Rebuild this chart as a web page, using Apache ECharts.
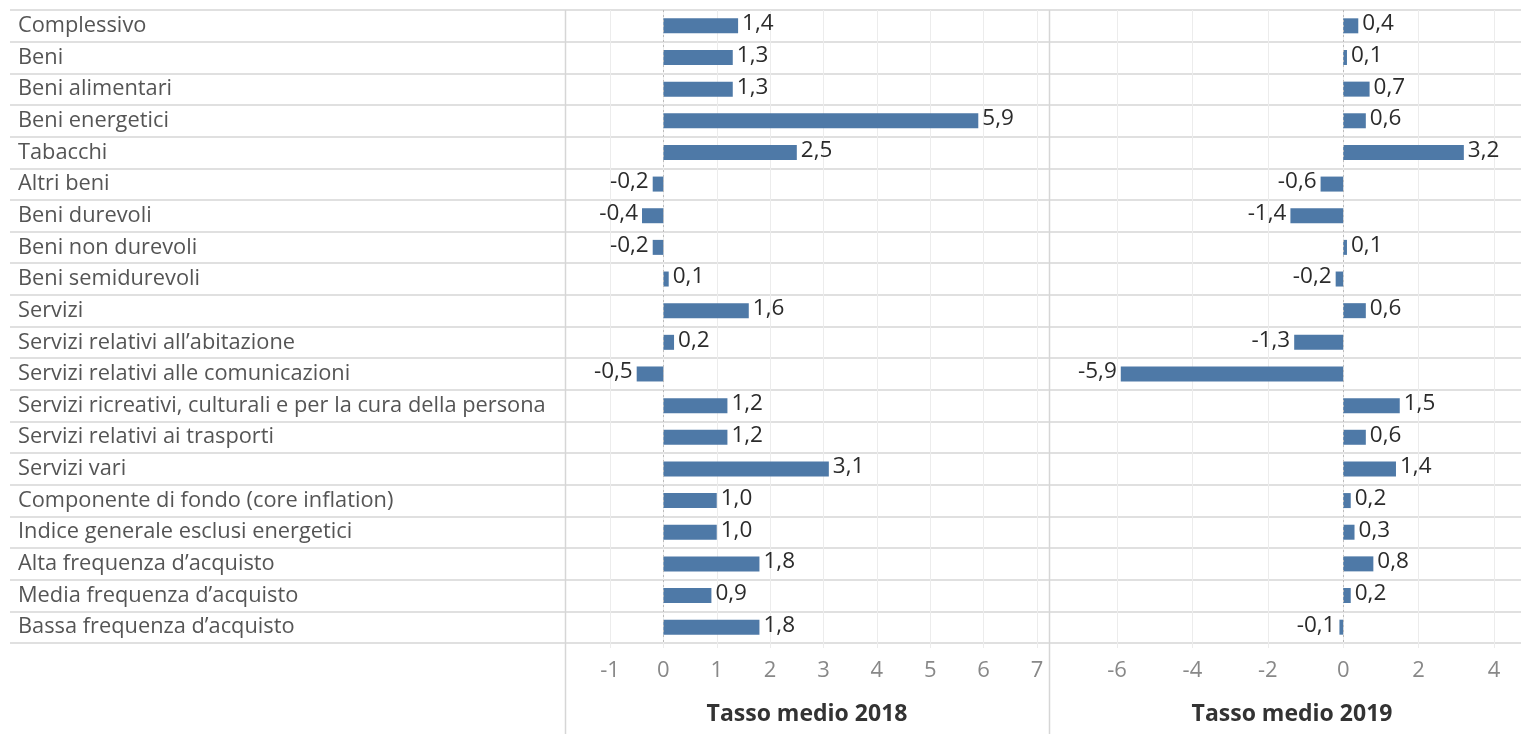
<!DOCTYPE html>
<html>
<head>
<meta charset="utf-8">
<script src="https://cdn.jsdelivr.net/npm/echarts@6/dist/echarts.min.js"></script>
<style>
html,body{margin:0;padding:0;background:#fff;}
#chart{width:1521px;height:734px;}
</style>
</head>
<body>
<div id="chart"></div>
<script>
const categories = [
  'Complessivo','Beni','Beni alimentari','Beni energetici','Tabacchi','Altri beni',
  'Beni durevoli','Beni non durevoli','Beni semidurevoli','Servizi',
  'Servizi relativi all’abitazione','Servizi relativi alle comunicazioni',
  'Servizi ricreativi, culturali e per la cura della persona','Servizi relativi ai trasporti',
  'Servizi vari','Componente di fondo (core inflation)','Indice generale esclusi energetici',
  'Alta frequenza d’acquisto','Media frequenza d’acquisto','Bassa frequenza d’acquisto'
];
const values2018 = [1.4,1.3,1.3,5.9,2.5,-0.2,-0.4,-0.2,0.1,1.6,0.2,-0.5,1.2,1.2,3.1,1.0,1.0,1.8,0.9,1.8];
const values2019 = [0.4,0.1,0.7,0.6,3.2,-0.6,-1.4,0.1,-0.2,0.6,-1.3,-5.9,1.5,0.6,1.4,0.2,0.3,0.8,0.2,-0.1];
const titles = ['Tasso medio 2018','Tasso medio 2019'];

const FONT = '"Open Sans", "Noto Sans", sans-serif';
const BAR = '#4e79a7';
const ROWLINE = '#d6d6d6';
const GRIDV = '#ececec';

const chart = echarts.init(document.getElementById('chart'), null, {renderer:'canvas'});

function fmt(v){ return v.toFixed(1).replace('.', ','); }
function barData(arr){
  return arr.map(v => ({
    value: v,
    label: {position: v < 0 ? 'left' : 'right'}
  }));
}

const TOP = 10, H = 633;

function catAxis(i, opts){
  return Object.assign({
    gridIndex: i, type: 'category', data: categories, inverse: true,
    axisLine:{show:false}, axisTick:{show:false}, axisLabel:{show:false},
    splitLine:{show:true, interval:0, lineStyle:{color:ROWLINE, width:1.5}}
  }, opts || {});
}
function hiddenVal(i, opts){
  return Object.assign({
    gridIndex: i, type: 'value', min:0, max:1,
    axisLine:{show:false}, axisTick:{show:false}, axisLabel:{show:false}, splitLine:{show:false}
  }, opts || {});
}
function dataVal(i, min, max, interval){
  return {
    gridIndex: i, type:'value', min:min, max:max, interval:interval,
    axisLine:{show:false},
    axisTick:{show:true, length:5, lineStyle:{color:GRIDV}},
    axisLabel:{show:true, color:'#888', fontSize:22, fontFamily:FONT, margin:17},
    splitLine:{show:true, lineStyle:{color:GRIDV, width:1}}
  };
}
const nameStyle = {fontSize:23, fontWeight:'bold', color:'#333', fontFamily:FONT};

function barSeries(i, arr){
  return {
    type:'bar', xAxisIndex:i, yAxisIndex:i, data: barData(arr), barWidth:15,
    itemStyle:{color:BAR},
    label:{show:true, formatter: p => fmt(p.value), fontSize:22.5, color:'#2b2b2b', fontFamily:FONT, distance:4, offset:[0,-2]},
    markLine:{silent:true, symbol:'none', label:{show:false},
      lineStyle:{color:'#bbb', type:[2,3], width:1},
      data:[{xAxis:0}]},
    animation:false
  };
}

const option = {
  animation:false,
  backgroundColor:'#fff',
  grid:[
    {left:10, top:TOP, width:555, height:H},
    {left:565, top:TOP, width:484, height:H},
    {left:1049, top:TOP, width:486, height:H},
    {left:610, top:TOP, width:427, height:H},
    {left:1117, top:TOP, width:377, height:H}
  ],
  xAxis:[
    hiddenVal(0),
    hiddenVal(1, {name:titles[0], nameLocation:'middle', nameGap:60, nameTextStyle:nameStyle}),
    hiddenVal(2, {name:titles[1], nameLocation:'middle', nameGap:60, nameTextStyle:Object.assign({padding:[0,0,0,14]}, nameStyle)}),
    dataVal(3, -1, 7, 1),
    dataVal(4, -6, 4, 2)
  ],
  yAxis:[
    catAxis(0, {axisLabel:{show:true, inside:true, interval:0, margin:8, align:'left', color:'#555', fontSize:21.8, fontFamily:FONT}}),
    catAxis(1),
    catAxis(2),
    catAxis(3, {show:false}),
    catAxis(4, {show:false})
  ],
  series:[
    barSeries(3, values2018),
    barSeries(4, values2019)
  ],
  graphic:[
    {type:'line', shape:{x1:565.5, y1:TOP, x2:565.5, y2:734}, style:{stroke:ROWLINE, lineWidth:1.5}, silent:true},
    {type:'line', shape:{x1:1049.5, y1:TOP, x2:1049.5, y2:734}, style:{stroke:ROWLINE, lineWidth:1.5}, silent:true}
  ]
};
chart.setOption(option);
</script>
</body>
</html>
